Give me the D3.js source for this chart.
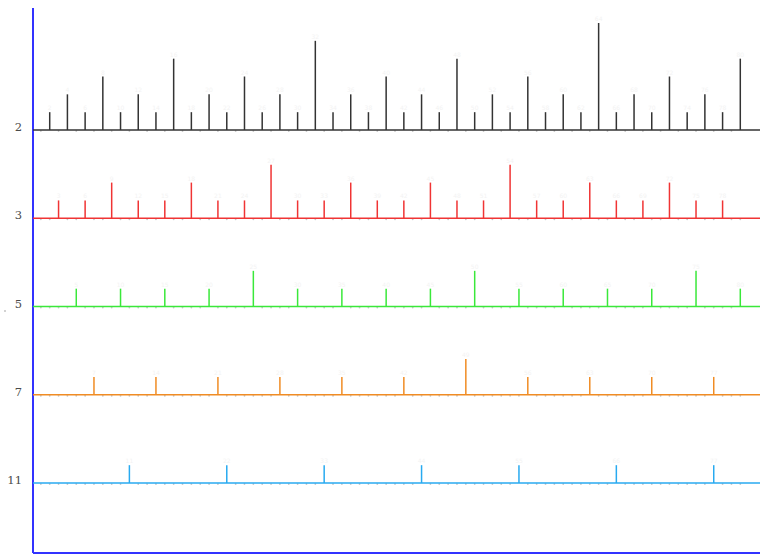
<!DOCTYPE html>
<html lang="en">
<head>
    <meta charset="UTF-8">
    <title>p-adic valuations</title>
    <script src="https://d3js.org/d3.v7.min.js"></script>
    <style>
        body { margin: 0; background: #fff; }
        .label { font-family: "DejaVu Serif", "Liberation Serif", serif; font-size: 11.5px; fill: #4a4a4a; }
        .tiny { font-family: "DejaVu Sans", sans-serif; font-size: 6px; fill: #f3f3f3; }
    </style>
</head>
<body>
<script>
    const width  = 760;
    const height = 555;

    const nMax = 80;
    const primes = [2, 3, 5, 7, 11];
    const colors = ["#333333", "#f03434", "#3ae83a", "#f08c24", "#28aaf0"];

    // valuation of each multiple p, 2p, 3p, ... up to nMax
    const val2  = [1,2,1,3,1,2,1,4,1,2,1,3,1,2,1,5,1,2,1,3,1,2,1,4,1,2,1,3,1,2,1,6,1,2,1,3,1,2,1,4];
    const val3  = [1,1,2,1,1,2,1,1,3,1,1,2,1,1,2,1,1,3,1,1,2,1,1,2,1,1];
    const val5  = [1,1,1,1,2,1,1,1,1,2,1,1,1,1,2,1];
    const val7  = [1,1,1,1,1,1,2,1,1,1,1];
    const val11 = [1,1,1,1,1,1,1];
    const vals = [val2, val3, val5, val7, val11];

    const x = d3.scaleLinear().domain([0, 82]).range([32, 758]);
    const row = d3.scalePoint().domain(primes).range([130, 483]);
    const h = d3.scaleLinear().domain([0, 6]).range([0, 107]);

    const svg = d3.select("body").append("svg").attr("width", width).attr("height", height);

    // frame axes
    svg.append("line").attr("x1", 33).attr("x2", 33).attr("y1", 8).attr("y2", 553)
        .attr("stroke", "#3333ff").attr("stroke-width", 2);
    svg.append("line").attr("x1", 33).attr("x2", 760).attr("y1", 553).attr("y2", 553)
        .attr("stroke", "#3333ff").attr("stroke-width", 2);

    primes.forEach((p, i) => {
        const y0 = row(p);
        const g = svg.append("g");
        const spikes = vals[i].map((v, k) => ({n: p * (k + 1), v: v}));
        const multiples = new Set(spikes.map(d => d.n));
        const others = d3.range(1, nMax + 1).filter(n => !multiples.has(n));

        g.selectAll("circle").data(others).join("circle")
            .attr("cx", n => x(n)).attr("cy", y0 + 1).attr("r", 0.9)
            .attr("fill", "#c8c8c8");

        g.append("line").attr("x1", 33).attr("x2", 760).attr("y1", y0).attr("y2", y0)
            .attr("stroke", colors[i]).attr("stroke-width", 1.6);

        g.selectAll("line.spike").data(spikes).join("line").attr("class", "spike")
            .attr("x1", d => x(d.n)).attr("x2", d => x(d.n))
            .attr("y1", y0).attr("y2", d => y0 - h(d.v))
            .attr("stroke", colors[i]).attr("stroke-width", 1.5);

        g.selectAll("text.tiny").data(spikes).join("text").attr("class", "tiny")
            .attr("x", d => x(d.n)).attr("y", d => y0 - h(d.v) - 2)
            .attr("text-anchor", "middle").text(d => d.n);

        svg.append("text").attr("class", "label")
            .attr("x", 22).attr("y", y0 + 1).attr("text-anchor", "end")
            .text(p);
    });

    svg.append("circle").attr("cx", 5).attr("cy", 311).attr("r", 0.8).attr("fill", "#999");
</script>
</body>
</html>
